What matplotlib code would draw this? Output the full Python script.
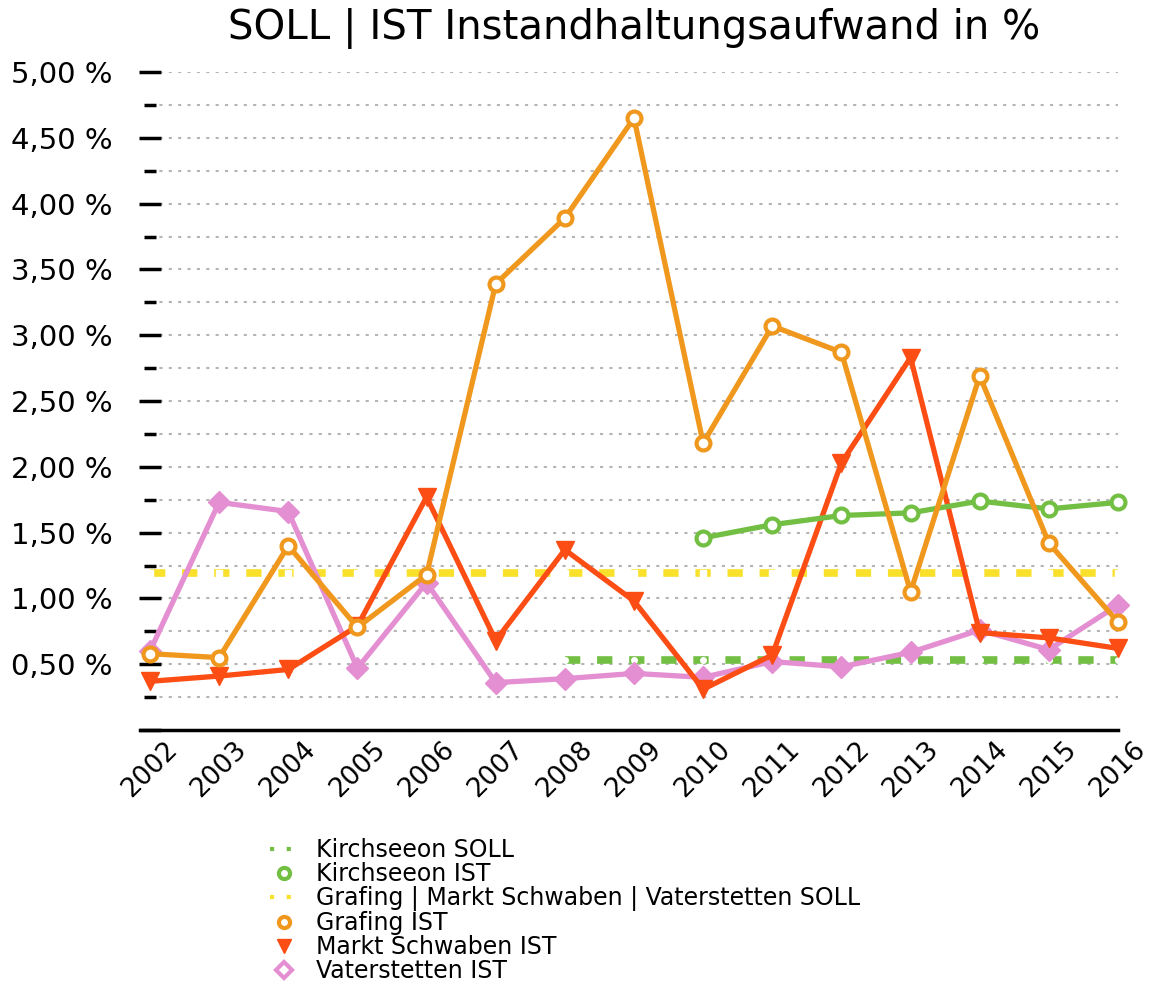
import matplotlib
matplotlib.use("Agg")
import matplotlib.pyplot as plt
from matplotlib.lines import Line2D
from matplotlib.ticker import MultipleLocator, FuncFormatter

years = list(range(2002, 2017))
years_kirchseeon = list(range(2010, 2017))
years_kirchseeon_soll = list(range(2008, 2017))

grafing_ist = [0.58, 0.55, 1.40, 0.78, 1.18, 3.39, 3.89, 4.65, 2.18, 3.07, 2.87, 1.05, 2.69, 1.42, 0.82]
markt_schwaben_ist = [0.37, 0.41, 0.46, 0.79, 1.77, 0.68, 1.37, 0.98, 0.31, 0.57, 2.03, 2.83, 0.74, 0.70, 0.62]
vaterstetten_ist = [0.60, 1.73, 1.66, 0.47, 1.12, 0.36, 0.39, 0.43, 0.40, 0.52, 0.48, 0.59, 0.76, 0.61, 0.95]
kirchseeon_ist = [1.46, 1.56, 1.63, 1.65, 1.74, 1.68, 1.73]
kirchseeon_soll = [0.53] * len(years_kirchseeon_soll)
gmv_soll = [1.19] * len(years)

labels = ["Kirchseeon SOLL", "Kirchseeon IST",
          "Grafing | Markt Schwaben | Vaterstetten SOLL",
          "Grafing IST", "Markt Schwaben IST", "Vaterstetten IST"]

c_green = "#72bf44"
c_yellow = "#f9e02a"
c_orange = "#f0981e"
c_red = "#fb4d14"
c_pink = "#e48fd2"

plt.rcParams['font.family'] = ['DejaVu Sans']

fig = plt.figure(figsize=(11.54, 9.85), dpi=100)
ax = fig.add_axes([150 / 1154, 1 - 730 / 985, 968 / 1154, 658 / 985])

# SOLL lines
ax.plot(years_kirchseeon_soll, kirchseeon_soll, color=c_green, lw=5.5, ls=(0, (2, 2.2)),
        marker='o', ms=4, mfc='white', mec='white', zorder=2)
ax.plot(years, gmv_soll, color=c_yellow, lw=5.5, ls=(0, (2, 2.2)),
        marker='s', ms=4, mfc='white', mec='white', zorder=2)

# IST lines
ax.plot(years, vaterstetten_ist, color=c_pink, lw=3.8, marker='D', ms=11,
        mfc=c_pink, mec=c_pink, zorder=3, clip_on=False)
ax.plot(years, markt_schwaben_ist, color=c_red, lw=3.8, marker='v', ms=13,
        mfc=c_red, mec=c_red, zorder=4, clip_on=False)
ax.plot(years_kirchseeon, kirchseeon_ist, color=c_green, lw=3.8, marker='o', ms=10,
        mfc='white', mec=c_green, mew=3, zorder=5, clip_on=False)
ax.plot(years, grafing_ist, color=c_orange, lw=3.8, marker='o', ms=10,
        mfc='white', mec=c_orange, mew=3, zorder=6, clip_on=False)

ax.set_xlim(2002, 2016)
ax.set_ylim(0, 5)
ax.set_xticks(years)
ax.set_xticklabels([str(y) for y in years], rotation=45, ha='center', va='top', fontsize=19)
ax.yaxis.set_major_locator(MultipleLocator(0.5))
ax.yaxis.set_minor_locator(MultipleLocator(0.25))

def pct(v, pos):
    if v < 0.4:
        return ""
    return ("%.2f %%" % v).replace(".", ",")

ax.yaxis.set_major_formatter(FuncFormatter(pct))
ax.tick_params(axis='y', which='major', direction='inout', length=16, width=2.5,
               labelsize=21, pad=19)
ax.tick_params(axis='y', which='minor', direction='inout', length=9, width=2.5)
ax.tick_params(axis='x', length=0, pad=5)

for s in ['top', 'right', 'left']:
    ax.spines[s].set_visible(False)
ax.spines['bottom'].set_linewidth(2.5)
ax.spines['bottom'].set_bounds(2001.86, 2016)

ax.grid(axis='y', which='both', color='#b5b5b5', lw=1.5, ls=(0, (1.5, 3)))
ax.set_axisbelow(True)

ax.set_title("SOLL | IST Instandhaltungsaufwand in %", fontsize=29, pad=24)

handles = [
    Line2D([], [], color=c_green, lw=3, ls=(0, (1, 3))),
    Line2D([], [], color=c_green, ls='none', marker='o', ms=8, mfc='white', mec=c_green, mew=3),
    Line2D([], [], color=c_yellow, lw=3, ls=(0, (1, 3))),
    Line2D([], [], color=c_orange, ls='none', marker='o', ms=8, mfc='white', mec=c_orange, mew=3),
    Line2D([], [], color=c_red, ls='none', marker='v', ms=10, mfc=c_red, mec=c_red),
    Line2D([], [], color=c_pink, ls='none', marker='D', ms=8, mfc='white', mec=c_pink, mew=3),
]
fig.legend(handles, labels, loc='upper left', bbox_to_anchor=(258 / 1154, 1 - 826 / 985),
           frameon=False, fontsize=17, labelspacing=0.0, handlelength=1.2,
           handletextpad=0.75, borderpad=0)

fig.savefig("out.png", dpi=100)
